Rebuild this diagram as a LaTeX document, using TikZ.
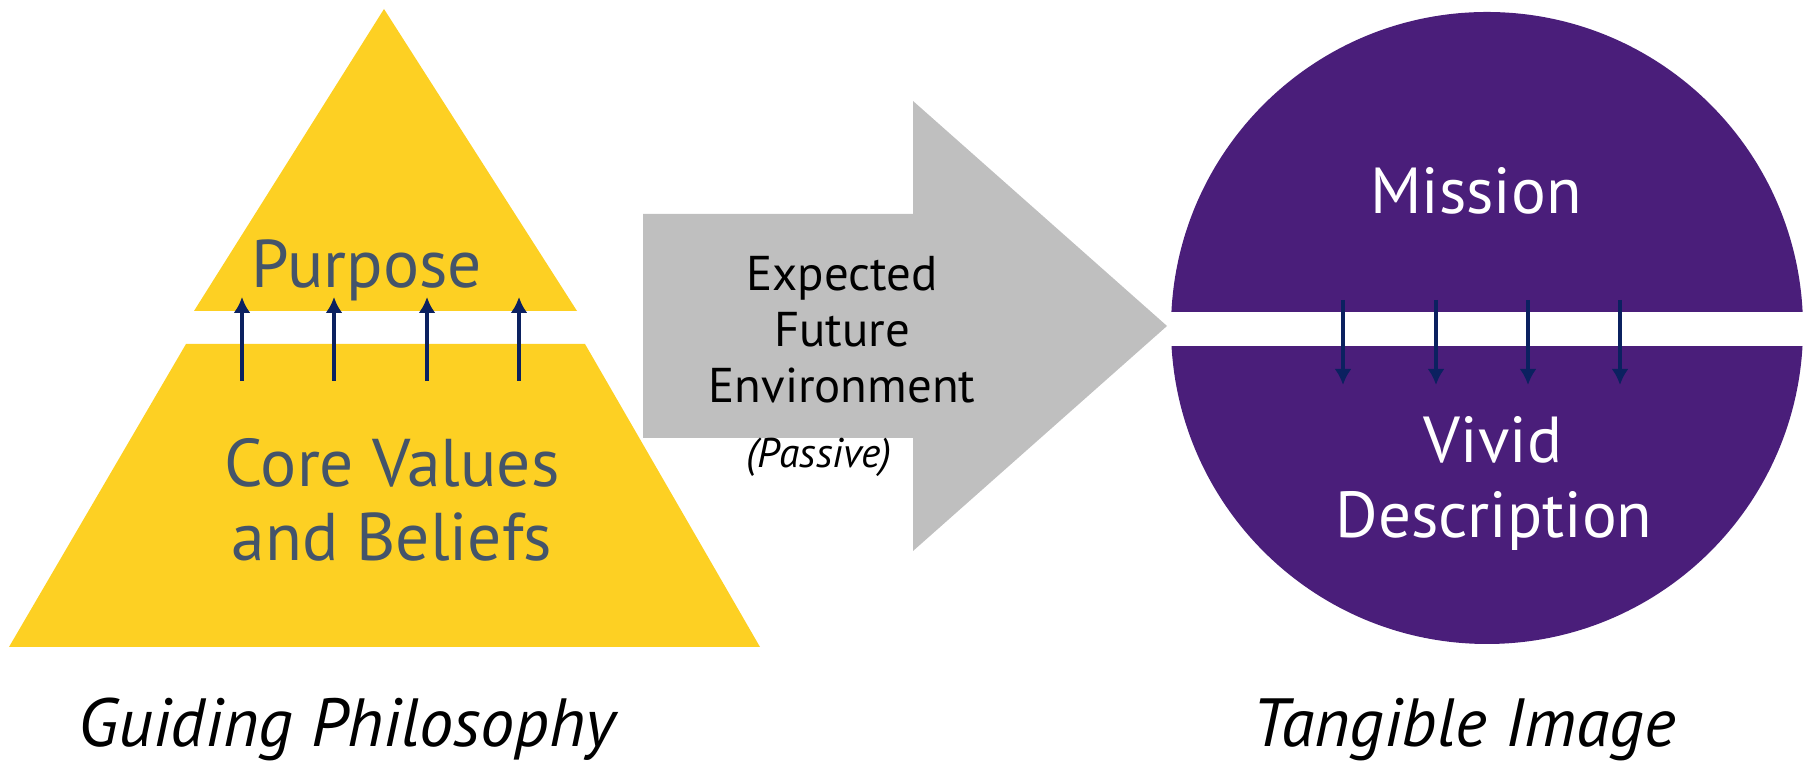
\documentclass[tikz,border=0pt]{standalone}
\usepackage{fontspec}
\setmainfont{PT Sans}
\usetikzlibrary{arrows.meta}
\definecolor{pyellow}{HTML}{FDD023}
\definecolor{ppurple}{HTML}{4A1E7A}
\definecolor{pgray}{HTML}{BFBFBF}
\definecolor{pnavy}{HTML}{0B2160}
\definecolor{pslate}{HTML}{44546A}
\begin{document}
\begin{tikzpicture}[>={Latex[length=1.6mm,width=1.7mm]},
	every node/.style={inner sep=0pt,anchor=base},
	bigtext/.style={font=\fontsize{18.5}{22}\selectfont},
	midtext/.style={font=\fontsize{13.9}{16}\selectfont},
	captext/.style={font=\fontsize{19.4}{23}\selectfont\itshape},
	flowarrow/.style={->,draw=pnavy,line width=1.1pt}]
	
	\useasboundingbox (0,0) rectangle (18.08,7.63);
	
	% pyramid
	\fill[pyellow] (3.84,7.54) -- (5.77,4.52) -- (1.94,4.52) -- cycle;
	\fill[pyellow] (1.86,4.19) -- (5.85,4.19) -- (7.60,1.16) -- (0.09,1.16) -- cycle;
	
	% block arrow
	\fill[pgray] (6.43,5.49) -- (9.13,5.49) -- (9.13,6.62) -- (11.67,4.37)
		-- (9.13,2.12) -- (9.13,3.25) -- (6.43,3.25) -- cycle;
	
	% circle with gap
	\fill[ppurple] (14.87,4.35) circle (3.16);
	\fill[white] (11.70,4.17) rectangle (18.08,4.51);
	
	\node[bigtext,font=\fontsize{19.2}{22}\selectfont,text=pslate] (purpose) at (3.67,4.75) {Purpose};
	\node[bigtext,font=\fontsize{19.2}{22}\selectfont,text=pslate] (core) at (3.92,2.76) {Core Values};
	\node[bigtext,font=\fontsize{19.2}{22}\selectfont,text=pslate] (beliefs) at (3.92,2.02) {and Beliefs};
	
	\node[midtext] (expected) at (8.42,4.72) {Expected};
	\node[midtext] (future) at (8.42,4.16) {Future};
	\node[midtext] (environ) at (8.42,3.60) {Environment};
	\node[font=\fontsize{11.8}{14}\selectfont\itshape] (passive) at (8.19,2.95) {(Passive)};
	
	\node[bigtext,text=white] (mission) at (14.76,5.49) {Mission};
	\node[bigtext,text=white] (vivid) at (14.93,3.00) {Vivid};
	\node[bigtext,text=white] (descr) at (14.94,2.25) {Description};
	
	\node[captext] (guiding) at (3.47,0.16) {Guiding Philosophy};
	\node[captext] (tangible) at (14.64,0.16) {Tangible Image};
	
	\coordinate (a1) at (2.42,3.82);  \coordinate (b1) at (2.42,4.66);
	\coordinate (a2) at (3.34,3.82);  \coordinate (b2) at (3.34,4.66);
	\coordinate (a3) at (4.27,3.82);  \coordinate (b3) at (4.27,4.66);
	\coordinate (a4) at (5.19,3.82);  \coordinate (b4) at (5.19,4.66);
	
	\draw[flowarrow] (a1) -- (b1);
	\draw[flowarrow] (a2) -- (b2);
	\draw[flowarrow] (a3) -- (b3);
	\draw[flowarrow] (a4) -- (b4);
	
	\coordinate (c1) at (13.43,4.63); \coordinate (d1) at (13.43,3.78);
	\coordinate (c2) at (14.36,4.63); \coordinate (d2) at (14.36,3.78);
	\coordinate (c3) at (15.28,4.63); \coordinate (d3) at (15.28,3.78);
	\coordinate (c4) at (16.20,4.63); \coordinate (d4) at (16.20,3.78);
	
	\draw[flowarrow] (c1) -- (d1);
	\draw[flowarrow] (c2) -- (d2);
	\draw[flowarrow] (c3) -- (d3);
	\draw[flowarrow] (c4) -- (d4);
\end{tikzpicture}
\end{document}
